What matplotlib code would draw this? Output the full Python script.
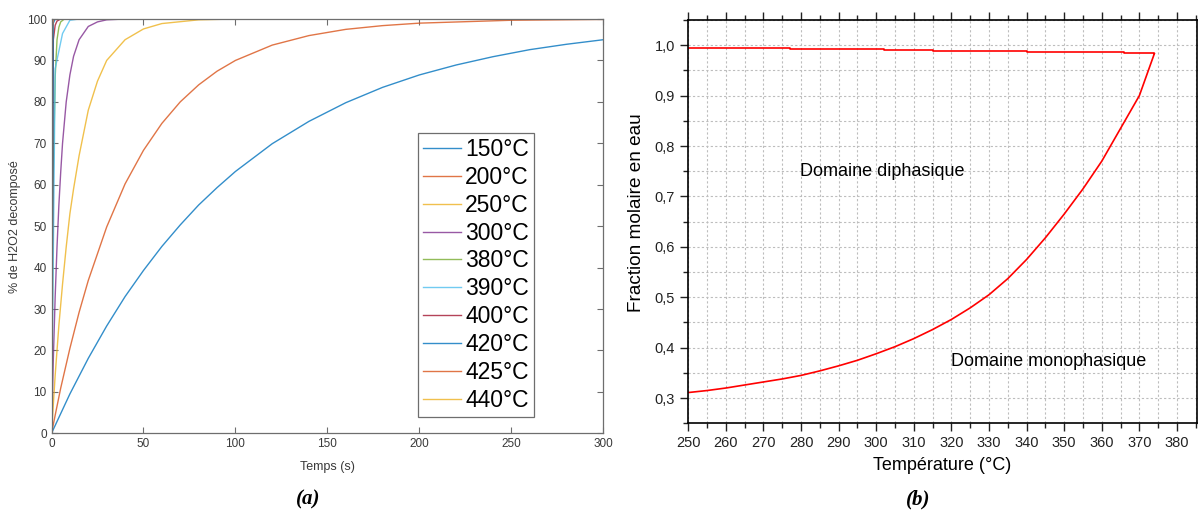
import matplotlib
matplotlib.use("Agg")
import matplotlib.pyplot as plt
from matplotlib.ticker import MultipleLocator, FuncFormatter

plt.rcParams['font.family'] = ['Liberation Sans', 'DejaVu Sans']

# ---- (a) decomposition de H2O2 ----
t_150 = [0, 10, 20, 30, 40, 50, 60, 70, 80, 90, 100, 120, 140, 160, 180, 200, 220, 240, 260, 280, 300]
y_150 = [0, 9.5, 18.1, 25.9, 33.0, 39.3, 45.1, 50.3, 55.1, 59.3, 63.2, 69.9, 75.3, 79.8, 83.5, 86.5, 88.9, 90.9, 92.6, 93.9, 95.0]
t_200 = [0, 5, 10, 15, 20, 30, 40, 50, 60, 70, 80, 90, 100, 120, 140, 160, 180, 200, 250, 300]
y_200 = [0, 10.9, 20.5, 29.2, 36.9, 49.8, 60.2, 68.3, 74.8, 80.0, 84.1, 87.4, 90.0, 93.7, 96.0, 97.5, 98.4, 99.0, 99.7, 99.9]
t_250 = [0, 2, 4, 6, 8, 10, 12, 15, 20, 25, 30, 40, 50, 60, 80, 100, 300]
y_250 = [0, 14, 26, 36, 45, 53, 59, 67, 78, 85, 90, 95, 97.6, 98.9, 99.8, 100, 100]
t_300 = [0, 1, 2, 3, 4, 5, 6, 7, 8, 10, 12, 15, 20, 25, 30, 40, 300]
y_300 = [0, 18, 33, 45, 55, 63, 70, 75, 80, 86.5, 91, 95, 98.2, 99.3, 99.8, 100, 100]
t_380 = [0, 1, 2, 3, 4, 5, 7, 300]
y_380 = [0, 63, 86, 95, 98, 99.3, 100, 100]
t_390 = [0, 2, 6, 10, 15, 300]
y_390 = [0, 88, 96.5, 99.7, 100, 100]
t_400 = [0, 1, 2, 3, 5, 300]
y_400 = [0, 95, 98.5, 99.5, 100, 100]
t_420 = [0, 1, 2, 300]
y_420 = [0, 99, 100, 100]
t_425 = [0, 0.5, 1, 300]
y_425 = [0, 98, 100, 100]
t_440 = [0, 0.5, 300]
y_440 = [0, 100, 100]

series_a = [(t_150, y_150, "150°C"), (t_200, y_200, "200°C"), (t_250, y_250, "250°C"),
            (t_300, y_300, "300°C"), (t_380, y_380, "380°C"), (t_390, y_390, "390°C"),
            (t_400, y_400, "400°C"), (t_420, y_420, "420°C"), (t_425, y_425, "425°C"),
            (t_440, y_440, "440°C")]
couleurs = ["#0072BD", "#D95319", "#EDB120", "#7E2F8E", "#77AC30",
            "#4DBEEE", "#A2142F", "#0072BD", "#D95319", "#EDB120"]

# ---- (b) diagramme eau ----
T_haut = [250, 263, 277, 289, 302, 315, 326, 340, 352, 366, 374]
x_haut = [0.9952, 0.9940, 0.9928, 0.9916, 0.9904, 0.9892, 0.9880, 0.9868, 0.9856, 0.9844, 0.9835]
T_bas = [250, 255, 260, 265, 270, 275, 280, 285, 290, 295, 300, 305, 310, 315, 320,
         325, 330, 335, 340, 345, 350, 355, 360, 365, 370, 374]
x_bas = [0.311, 0.315, 0.320, 0.326, 0.332, 0.338, 0.345, 0.354, 0.364, 0.375, 0.388, 0.402,
         0.418, 0.436, 0.456, 0.479, 0.505, 0.537, 0.575, 0.618, 0.665, 0.715, 0.770, 0.835,
         0.900, 0.9835]

fig = plt.figure(figsize=(11.98, 5.16), dpi=100)

# ===== panneau (a) =====
ax1 = fig.add_axes([51.5 / 1198, (516 - 433.3) / 516, (603.3 - 51.5) / 1198, (433.3 - 19) / 516])
for (t, y, lab), c in zip(series_a, couleurs):
    ax1.plot(t, y, color=c, lw=1.0, alpha=0.8, label=lab)
ax1.set_xlim(0, 300)
ax1.set_ylim(0, 100)
ax1.set_xticks(range(0, 301, 50))
ax1.set_yticks(range(0, 101, 10))
ax1.tick_params(direction='in', length=4, width=0.8, colors='#6e6e6e',
                labelcolor='#3a3a3a', labelsize=8.5, top=True, right=True)
for s in ax1.spines.values():
    s.set_color('#6e6e6e')
    s.set_linewidth(0.9)
ax1.set_xlabel("Temps (s)", fontsize=9, color='#3a3a3a', labelpad=8)
ax1.set_ylabel("% de H2O2 decomposé", fontsize=9, color='#3a3a3a', labelpad=4)
leg = ax1.legend(loc='lower left', bbox_to_anchor=(0.6646, 0.039), fontsize=16.5,
                 labelspacing=0.215, handlelength=1.65, handletextpad=0.18,
                 borderpad=0.22, borderaxespad=0, fancybox=False, framealpha=1)
leg.get_frame().set_edgecolor('#6e6e6e')
leg.get_frame().set_linewidth(0.9)

# ===== panneau (b) =====
ax2 = fig.add_axes([688.3 / 1198, (516 - 423.3) / 516, (1196.5 - 688.3) / 1198, (423.3 - 20) / 516])
ax2.plot(T_haut, x_haut, color='red', lw=1.2, drawstyle='steps-post')
ax2.plot(T_bas, x_bas, color='red', lw=1.2)
ax2.set_xlim(250, 385.2)
ax2.set_ylim(0.25, 1.05)
ax2.xaxis.set_major_locator(MultipleLocator(10))
ax2.xaxis.set_minor_locator(MultipleLocator(5))
ax2.yaxis.set_major_locator(MultipleLocator(0.1))
ax2.yaxis.set_minor_locator(MultipleLocator(0.05))
ax2.yaxis.set_major_formatter(FuncFormatter(lambda v, p: f"{v:.1f}".replace('.', ',')))
ax2.set_yticks([0.3, 0.4, 0.5, 0.6, 0.7, 0.8, 0.9, 1.0])
ax2.grid(which='both', color='#bdbdbd', linestyle=(0, (2, 2)), lw=0.8)
ax2.tick_params(which='both', direction='out', top=True, right=True, width=1.0,
                colors='#222222', labelsize=10.5)
ax2.tick_params(which='major', length=6)
ax2.tick_params(which='minor', length=3.5)
for s in ax2.spines.values():
    s.set_linewidth(1.2)
ax2.set_xlabel("Température (°C)", fontsize=13, labelpad=5)
ax2.set_ylabel("Fraction molaire en eau", fontsize=13.7)
ax2.yaxis.set_label_coords(-0.085, 0.523)
ax2.text(279.7, 0.75, "Domaine diphasique", fontsize=13, va='center', ha='left')
ax2.text(319.9, 0.372, "Domaine monophasique", fontsize=13, va='center', ha='left')

# legendes des panneaux
fig.text(308 / 1198, 1 - 499 / 516, "(a)", fontsize=15, family='Liberation Serif',
         style='italic', weight='bold', ha='center', va='center')
fig.text(918 / 1198, 1 - 499 / 516, "(b)", fontsize=15, family='Liberation Serif',
         style='italic', weight='bold', ha='center', va='center')

fig.savefig("out.png", dpi=100)
